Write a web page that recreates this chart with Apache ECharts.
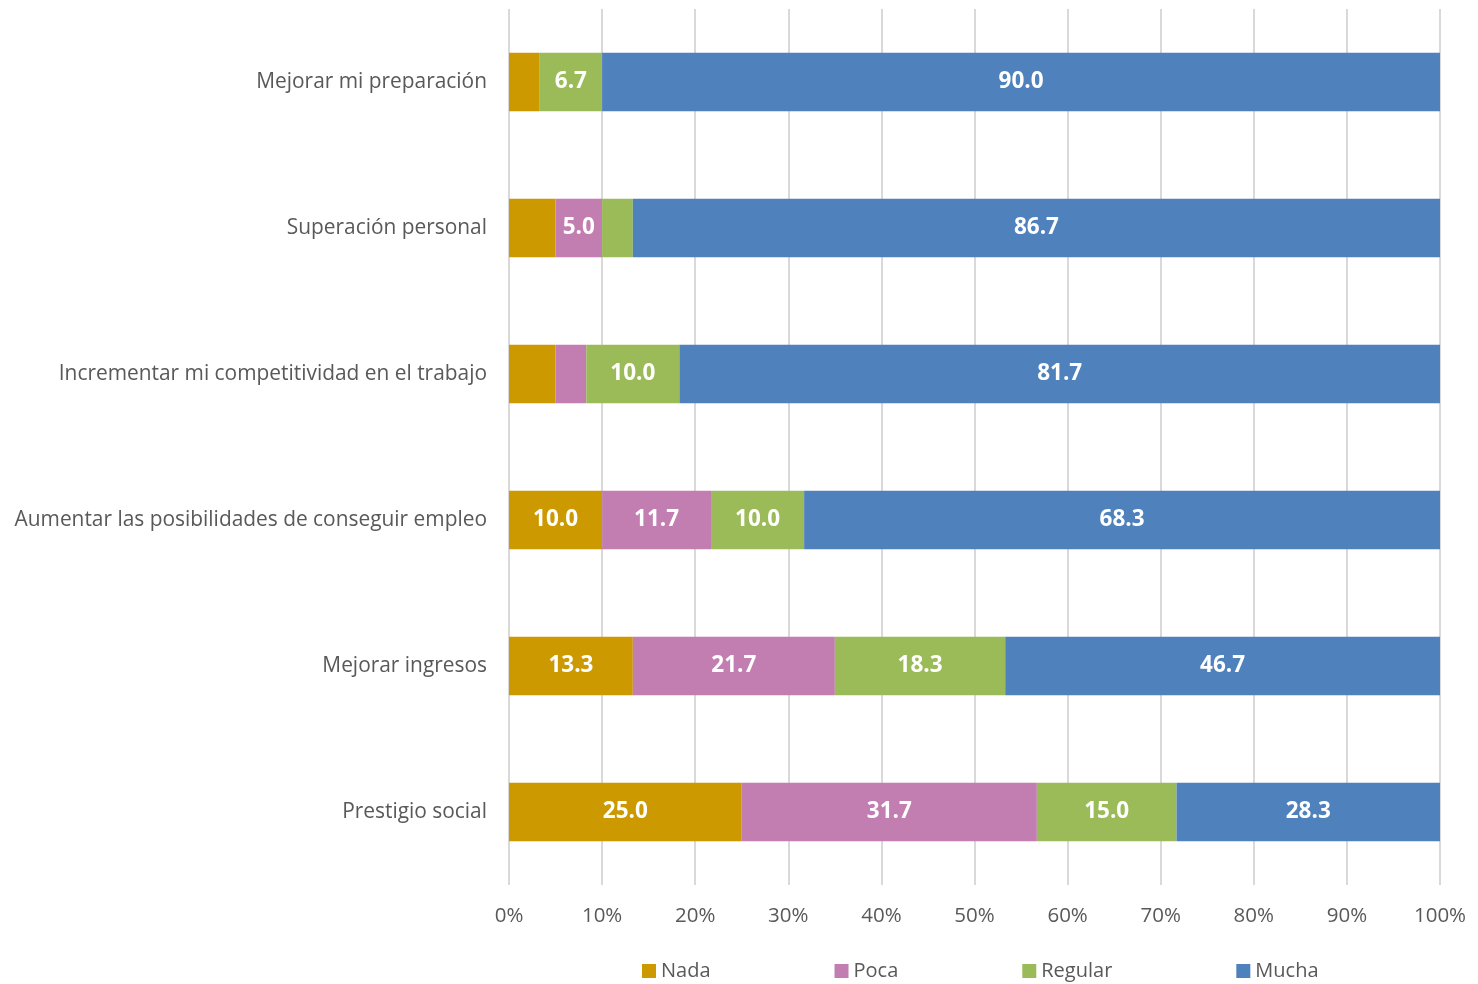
<!DOCTYPE html>
<html>
<head>
<meta charset="utf-8">
<script src="https://cdn.jsdelivr.net/npm/echarts@6/dist/echarts.min.js"></script>
<style>html,body{margin:0;padding:0;background:#fff}#c{width:1478px;height:984px}</style>
</head>
<body>
<div id="c"></div>
<script>
// top to bottom order
const categories = ["Mejorar mi preparación","Superación personal","Incrementar mi competitividad en el trabajo","Aumentar las posibilidades de conseguir empleo","Mejorar ingresos","Prestigio social"];
const nada    = [3.3, 5.0, 5.0, 10.0, 13.3, 25.0];
const poca    = [0.0, 5.0, 3.3, 11.7, 21.7, 31.7];
const regular = [6.7, 3.3, 10.0, 10.0, 18.3, 15.0];
const mucha   = [90.0, 86.7, 81.7, 68.3, 46.7, 28.3];
// which segments carry a visible label
const showNada    = [false, false, false, true, true, true];
const showPoca    = [false, true, false, true, true, true];
const showRegular = [true, false, true, true, true, true];
const showMucha   = [true, true, true, true, true, true];
const xTicks = [0,10,20,30,40,50,60,70,80,90,100];

const FONT = "Open Sans";
function mk(name, vals, shows, color){
  return {
    name, type:'bar', stack:'t', barWidth:'40%', itemStyle:{color},
    data: vals.map((v,i)=>({value:v, label:{show:shows[i]}})),
    label:{position:'inside', color:'#fff', fontWeight:'bold', fontSize:22.5, fontFamily:FONT,
      formatter:p=>p.value.toFixed(1)},
    emphasis:{disabled:true}
  };
}
const chart = echarts.init(document.getElementById('c'));
chart.setOption({
  animation:false,
  grid:{left:509, right:38, top:9, bottom:99, containLabel:false},
  xAxis:{type:'value', min:0, max:100, interval:10,
    axisLine:{show:false}, axisTick:{show:false},
    splitLine:{lineStyle:{color:'#D9D9D9', width:2}},
    axisLabel:{formatter:v=>v+'%', color:'#595959', fontSize:20.5, fontFamily:FONT, margin:21}},
  yAxis:{type:'category', data:categories, inverse:true,
    axisLine:{show:false}, axisTick:{show:false},
    axisLabel:{color:'#595959', fontSize:20.9, fontFamily:FONT, margin:22}},
  legend:{left:637, top:956, itemWidth:14, itemHeight:14, itemGap:124, icon:'rect',
    textStyle:{color:'#595959', fontSize:20, fontFamily:FONT}, selectedMode:false},
  series:[
    mk('Nada', nada, showNada, '#CC9900'),
    mk('Poca', poca, showPoca, '#C27EB1'),
    mk('Regular', regular, showRegular, '#9BBB59'),
    mk('Mucha', mucha, showMucha, '#4F81BD')
  ]
});
</script>
</body>
</html>
